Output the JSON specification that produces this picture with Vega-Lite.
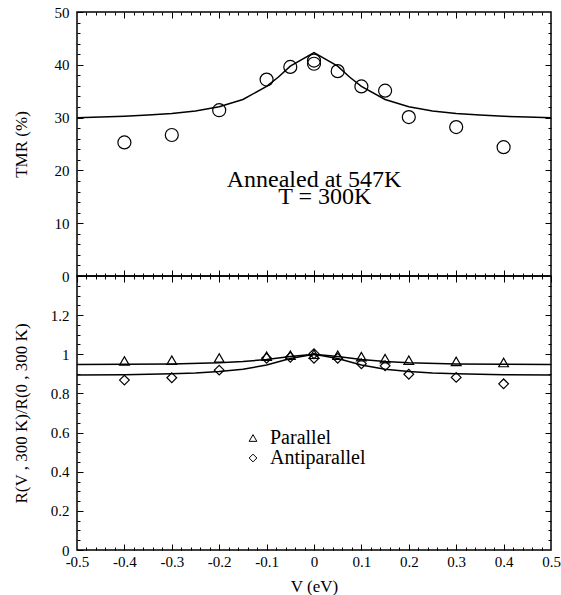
{
  "$schema": "https://vega.github.io/schema/vega-lite/v6.json",
  "padding": {"left": 11, "top": 4, "right": 0, "bottom": 0},
  "background": "white",
  "datasets": {
    "tmr_points": [
      {"V": -0.4, "TMR": 25.3}, {"V": -0.3, "TMR": 26.7}, {"V": -0.2, "TMR": 31.4},
      {"V": -0.1, "TMR": 37.2}, {"V": -0.05, "TMR": 39.6}, {"V": 0, "TMR": 40.8},
      {"V": 0, "TMR": 40.2}, {"V": 0.05, "TMR": 38.8}, {"V": 0.1, "TMR": 35.9},
      {"V": 0.15, "TMR": 35.1}, {"V": 0.2, "TMR": 30.1}, {"V": 0.3, "TMR": 28.2},
      {"V": 0.4, "TMR": 24.4}
    ],
    "tmr_fit": [
      {"V": -0.5, "fit": 29.99}, {"V": -0.45, "fit": 30.1}, {"V": -0.4, "fit": 30.25},
      {"V": -0.35, "fit": 30.47}, {"V": -0.3, "fit": 30.78}, {"V": -0.25, "fit": 31.27},
      {"V": -0.2, "fit": 32.06}, {"V": -0.15, "fit": 33.44}, {"V": -0.1, "fit": 35.9},
      {"V": -0.075, "fit": 37.69}, {"V": -0.05, "fit": 39.74}, {"V": 0, "fit": 42.3},
      {"V": 0.05, "fit": 39.74}, {"V": 0.075, "fit": 37.69}, {"V": 0.1, "fit": 35.9},
      {"V": 0.15, "fit": 33.44}, {"V": 0.2, "fit": 32.06}, {"V": 0.25, "fit": 31.27},
      {"V": 0.3, "fit": 30.78}, {"V": 0.35, "fit": 30.47}, {"V": 0.4, "fit": 30.25},
      {"V": 0.45, "fit": 30.1}, {"V": 0.5, "fit": 29.99}
    ],
    "notes": [
      {"V": 0, "TMR": 16.9, "label": "Annealed at 547K"},
      {"V": 0.023, "TMR": 13.6, "label": "T = 300K"}
    ],
    "r_points": [
      {"V": -0.4, "R": 0.966, "series": "Parallel"}, {"V": -0.3, "R": 0.97, "series": "Parallel"},
      {"V": -0.2, "R": 0.981, "series": "Parallel"}, {"V": -0.1, "R": 0.99, "series": "Parallel"},
      {"V": -0.05, "R": 0.995, "series": "Parallel"}, {"V": 0, "R": 1.0, "series": "Parallel"},
      {"V": 0.05, "R": 0.995, "series": "Parallel"}, {"V": 0.1, "R": 0.988, "series": "Parallel"},
      {"V": 0.15, "R": 0.978, "series": "Parallel"}, {"V": 0.2, "R": 0.97, "series": "Parallel"},
      {"V": 0.3, "R": 0.964, "series": "Parallel"}, {"V": 0.4, "R": 0.958, "series": "Parallel"},
      {"V": -0.4, "R": 0.868, "series": "Antiparallel"}, {"V": -0.3, "R": 0.88, "series": "Antiparallel"},
      {"V": -0.2, "R": 0.919, "series": "Antiparallel"}, {"V": -0.1, "R": 0.98, "series": "Antiparallel"},
      {"V": -0.05, "R": 0.985, "series": "Antiparallel"}, {"V": 0, "R": 1.003, "series": "Antiparallel"},
      {"V": 0, "R": 0.98, "series": "Antiparallel"}, {"V": 0.05, "R": 0.98, "series": "Antiparallel"},
      {"V": 0.1, "R": 0.952, "series": "Antiparallel"}, {"V": 0.15, "R": 0.941, "series": "Antiparallel"},
      {"V": 0.2, "R": 0.898, "series": "Antiparallel"}, {"V": 0.3, "R": 0.882, "series": "Antiparallel"},
      {"V": 0.4, "R": 0.849, "series": "Antiparallel"}
    ],
    "r_fit": [
      {"V": -0.5, "fit": 0.948, "series": "Parallel"}, {"V": -0.4, "fit": 0.949, "series": "Parallel"},
      {"V": -0.3, "fit": 0.951, "series": "Parallel"}, {"V": -0.2, "fit": 0.957, "series": "Parallel"},
      {"V": -0.15, "fit": 0.963, "series": "Parallel"}, {"V": -0.1, "fit": 0.973, "series": "Parallel"},
      {"V": -0.05, "fit": 0.989, "series": "Parallel"}, {"V": 0, "fit": 1.0, "series": "Parallel"},
      {"V": 0.05, "fit": 0.989, "series": "Parallel"}, {"V": 0.1, "fit": 0.973, "series": "Parallel"},
      {"V": 0.15, "fit": 0.963, "series": "Parallel"}, {"V": 0.2, "fit": 0.957, "series": "Parallel"},
      {"V": 0.3, "fit": 0.951, "series": "Parallel"}, {"V": 0.4, "fit": 0.949, "series": "Parallel"},
      {"V": 0.5, "fit": 0.948, "series": "Parallel"},
      {"V": -0.5, "fit": 0.894, "series": "Antiparallel"}, {"V": -0.4, "fit": 0.896, "series": "Antiparallel"},
      {"V": -0.3, "fit": 0.901, "series": "Antiparallel"}, {"V": -0.25, "fit": 0.905, "series": "Antiparallel"},
      {"V": -0.2, "fit": 0.912, "series": "Antiparallel"}, {"V": -0.15, "fit": 0.924, "series": "Antiparallel"},
      {"V": -0.1, "fit": 0.945, "series": "Antiparallel"}, {"V": -0.05, "fit": 0.978, "series": "Antiparallel"},
      {"V": 0, "fit": 1.0, "series": "Antiparallel"}, {"V": 0.05, "fit": 0.978, "series": "Antiparallel"},
      {"V": 0.1, "fit": 0.945, "series": "Antiparallel"}, {"V": 0.15, "fit": 0.924, "series": "Antiparallel"},
      {"V": 0.2, "fit": 0.912, "series": "Antiparallel"}, {"V": 0.25, "fit": 0.905, "series": "Antiparallel"},
      {"V": 0.3, "fit": 0.901, "series": "Antiparallel"}, {"V": 0.4, "fit": 0.896, "series": "Antiparallel"},
      {"V": 0.5, "fit": 0.894, "series": "Antiparallel"}
    ]
  },
  "bounds": "flush",
  "spacing": 0,
  "vconcat": [
    {
      "width": 474,
      "height": 264,
      "resolve": {"axis": {"x": "independent", "y": "independent"}},
      "layer": [
        {
          "data": {"name": "tmr_points"},
          "mark": {"type": "point", "shape": "circle", "filled": false, "stroke": "black", "strokeWidth": 1.2, "size": 169, "opacity": 1},
          "encoding": {
            "x": {"field": "V", "type": "quantitative", "scale": {"domain": [-0.5, 0.5], "nice": false, "zero": false},
              "axis": {"orient": "bottom", "values": [-0.4,-0.3,-0.2,-0.1,0,0.1,0.2,0.3,0.4], "grid": true, "gridDash": [6, 2000], "labels": false, "title": null}},
            "y": {"field": "TMR", "type": "quantitative", "scale": {"domain": [0, 50], "nice": false},
              "axis": {"orient": "left", "values": [0,10,20,30,40,50], "grid": true, "gridDash": [6, 2000], "labelPadding": 8, "labelExpr": "toString(datum.value)", "title": "TMR (%)", "titlePadding": 24}}
          }
        },
        {
          "data": {"name": "tmr_fit"},
          "mark": {"type": "line", "color": "black", "strokeWidth": 1.5},
          "encoding": {
            "x": {"field": "V", "type": "quantitative",
              "axis": {"orient": "bottom", "values": [-0.48,-0.46,-0.44,-0.42,-0.38,-0.36,-0.34,-0.32,-0.28,-0.26,-0.24,-0.22,-0.18,-0.16,-0.14,-0.12,-0.08,-0.06,-0.04,-0.02,0.02,0.04,0.06,0.08,0.12,0.14,0.16,0.18,0.22,0.24,0.26,0.28,0.32,0.34,0.36,0.38,0.42,0.44,0.46,0.48], "grid": true, "gridDash": [3, 2000], "labels": false, "title": null}},
            "y": {"field": "fit", "type": "quantitative",
              "axis": {"orient": "left", "values": [2,4,6,8,12,14,16,18,22,24,26,28,32,34,36,38,42,44,46,48], "grid": true, "gridDash": [3, 2000], "labels": false, "title": null}}
          }
        },
        {
          "data": {"name": "notes"},
          "mark": {"type": "text", "font": "Liberation Serif", "fontSize": 24, "align": "center", "baseline": "alphabetic", "color": "black"},
          "encoding": {
            "x": {"field": "V", "type": "quantitative",
              "axis": {"orient": "top", "values": [-0.4,-0.3,-0.2,-0.1,0,0.1,0.2,0.3,0.4], "grid": true, "gridDash": [6, 2000], "labels": false, "title": null}},
            "y": {"field": "TMR", "type": "quantitative",
              "axis": {"orient": "right", "values": [10,20,30,40], "grid": true, "gridDash": [6, 2000], "labels": false, "title": null}},
            "text": {"field": "label"}
          }
        },
        {
          "data": {"name": "tmr_points"},
          "mark": {"type": "point", "opacity": 0},
          "encoding": {
            "x": {"field": "V", "type": "quantitative",
              "axis": {"orient": "top", "values": [-0.48,-0.46,-0.44,-0.42,-0.38,-0.36,-0.34,-0.32,-0.28,-0.26,-0.24,-0.22,-0.18,-0.16,-0.14,-0.12,-0.08,-0.06,-0.04,-0.02,0.02,0.04,0.06,0.08,0.12,0.14,0.16,0.18,0.22,0.24,0.26,0.28,0.32,0.34,0.36,0.38,0.42,0.44,0.46,0.48], "grid": true, "gridDash": [3, 2000], "labels": false, "title": null}},
            "y": {"field": "TMR", "type": "quantitative",
              "axis": {"orient": "right", "values": [2,4,6,8,12,14,16,18,22,24,26,28,32,34,36,38,42,44,46,48], "grid": true, "gridDash": [3, 2000], "labels": false, "title": null}}
          }
        }
      ]
    },
    {
      "width": 474,
      "height": 274,
      "resolve": {"axis": {"x": "independent", "y": "independent"}},
      "layer": [
        {
          "data": {"name": "r_points"},
          "mark": {"type": "point", "filled": false, "stroke": "black", "strokeWidth": 1.2, "size": 95, "opacity": 1},
          "encoding": {
            "x": {"field": "V", "type": "quantitative", "scale": {"domain": [-0.5, 0.5], "nice": false, "zero": false},
              "axis": {"orient": "bottom", "values": [-0.5,-0.4,-0.3,-0.2,-0.1,0,0.1,0.2,0.3,0.4,0.5], "grid": true, "gridDash": [6, 2000], "labelPadding": 4, "labelExpr": "toString(datum.value)", "title": "V (eV)", "titlePadding": 9}},
            "y": {"field": "R", "type": "quantitative", "scale": {"domain": [0, 1.4], "nice": false},
              "axis": {"orient": "left", "values": [0,0.2,0.4,0.6,0.8,1,1.2], "grid": true, "gridDash": [6, 2000], "labelPadding": 8, "labelExpr": "toString(datum.value)", "title": "R(V , 300 K)/R(0 , 300 K)", "titlePadding": 20}},
            "shape": {"field": "series", "type": "nominal",
              "scale": {"domain": ["Parallel", "Antiparallel"], "range": ["triangle-up", "diamond"]},
              "legend": {"orient": "none", "legendX": 166, "legendY": 416, "title": null, "padding": 0, "labelFont": "Liberation Serif", "labelFontSize": 20, "labelColor": "black", "symbolSize": 60, "symbolStrokeWidth": 1, "symbolStrokeColor": "black", "symbolFillColor": "white", "labelOffset": 7, "rowPadding": 0}}
          }
        },
        {
          "data": {"name": "r_fit"},
          "mark": {"type": "line", "color": "black", "strokeWidth": 1.5},
          "encoding": {
            "x": {"field": "V", "type": "quantitative",
              "axis": {"orient": "bottom", "values": [-0.48,-0.46,-0.44,-0.42,-0.38,-0.36,-0.34,-0.32,-0.28,-0.26,-0.24,-0.22,-0.18,-0.16,-0.14,-0.12,-0.08,-0.06,-0.04,-0.02,0.02,0.04,0.06,0.08,0.12,0.14,0.16,0.18,0.22,0.24,0.26,0.28,0.32,0.34,0.36,0.38,0.42,0.44,0.46,0.48], "grid": true, "gridDash": [3, 2000], "labels": false, "title": null}},
            "y": {"field": "fit", "type": "quantitative",
              "axis": {"orient": "left", "values": [0.05,0.1,0.15,0.25,0.3,0.35,0.45,0.5,0.55,0.65,0.7,0.75,0.85,0.9,0.95,1.05,1.1,1.15,1.25,1.3,1.35], "grid": true, "gridDash": [3, 2000], "labels": false, "title": null}},
            "detail": {"field": "series", "type": "nominal"}
          }
        },
        {
          "data": {"name": "r_points"},
          "mark": {"type": "point", "opacity": 0},
          "encoding": {
            "x": {"field": "V", "type": "quantitative",
              "axis": {"orient": "top", "values": [-0.4,-0.3,-0.2,-0.1,0,0.1,0.2,0.3,0.4], "grid": true, "gridDash": [6, 2000], "labels": false, "title": null}},
            "y": {"field": "R", "type": "quantitative",
              "axis": {"orient": "right", "values": [0.2,0.4,0.6,0.8,1,1.2], "grid": true, "gridDash": [6, 2000], "labels": false, "title": null}}
          }
        },
        {
          "data": {"name": "r_points"},
          "mark": {"type": "point", "opacity": 0},
          "encoding": {
            "x": {"field": "V", "type": "quantitative",
              "axis": {"orient": "top", "values": [-0.48,-0.46,-0.44,-0.42,-0.38,-0.36,-0.34,-0.32,-0.28,-0.26,-0.24,-0.22,-0.18,-0.16,-0.14,-0.12,-0.08,-0.06,-0.04,-0.02,0.02,0.04,0.06,0.08,0.12,0.14,0.16,0.18,0.22,0.24,0.26,0.28,0.32,0.34,0.36,0.38,0.42,0.44,0.46,0.48], "grid": true, "gridDash": [3, 2000], "labels": false, "title": null}},
            "y": {"field": "R", "type": "quantitative",
              "axis": {"orient": "right", "values": [0.05,0.1,0.15,0.25,0.3,0.35,0.45,0.5,0.55,0.65,0.7,0.75,0.85,0.9,0.95,1.05,1.1,1.15,1.25,1.3,1.35], "grid": true, "gridDash": [3, 2000], "labels": false, "title": null}}
          }
        }
      ]
    }
  ],
  "config": {
    "font": "Liberation Serif",
    "view": {"stroke": "black", "strokeWidth": 1.5},
    "axis": {
      "domain": false, "ticks": false, "gridColor": "#000000", "gridWidth": 1, "gridOpacity": 1,
      "labelColor": "black", "titleColor": "black",
      "labelFont": "Liberation Serif", "titleFont": "Liberation Serif",
      "labelFontSize": 15, "titleFontSize": 17, "titleFontWeight": "normal",
      "labelFlush": false, "labelOverlap": false
    }
  }
}
